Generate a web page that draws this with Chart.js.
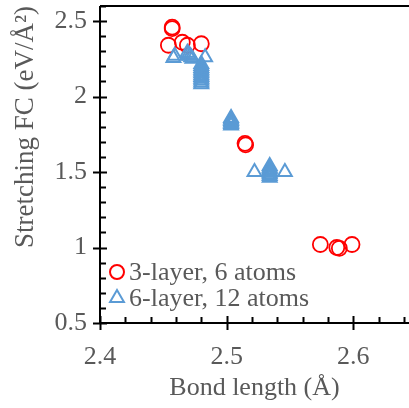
<!DOCTYPE html>
<html>
<head>
<meta charset="utf-8">
<script src="https://cdn.jsdelivr.net/npm/chart.js@4.4.0/dist/chart.umd.min.js"></script>
<style>
  body { margin: 0; background: #fff; }
</style>
</head>
<body>
<canvas id="fcChart" width="409" height="408"></canvas>
<script>
const seriesNames = ["3-layer, 6 atoms", "6-layer, 12 atoms"];

// 3-layer, 6 atoms
const bond3 = [2.457, 2.457, 2.454, 2.465, 2.469, 2.480, 2.5145, 2.515, 2.574, 2.587, 2.589, 2.599];
const fc3 = [2.46, 2.45, 2.34, 2.36, 2.34, 2.35, 1.69, 1.68, 1.02, 1.00, 0.995, 1.02];

// 6-layer, 12 atoms (many near-identical configurations stack up)
const bond6 = [2.458, 2.459, 2.483,
  2.469, 2.470, 2.471, 2.472, 2.473,
  2.480, 2.480, 2.480, 2.480, 2.480, 2.480, 2.480, 2.480, 2.480, 2.480, 2.480, 2.480,
  2.5035, 2.5035, 2.5035, 2.5035, 2.5035, 2.5035,
  2.522, 2.534, 2.534, 2.534, 2.534, 2.534, 2.534, 2.534, 2.534, 2.546];
const fc6 = [2.255, 2.27, 2.26,
  2.29, 2.28, 2.27, 2.26, 2.25,
  2.215, 2.203, 2.19, 2.178, 2.166, 2.154, 2.142, 2.13, 2.118, 2.106, 2.094, 2.082,
  1.858, 1.848, 1.838, 1.828, 1.818, 1.808,
  1.50, 1.54, 1.529, 1.518, 1.507, 1.496, 1.485, 1.474, 1.463, 1.50];

const xTicks = [2.4, 2.5, 2.6];
const yTicks = [0.5, 1, 1.5, 2, 2.5];

const red = "#FF0000";
const blue = "#5B9BD5";
const textGrey = "#595959";
const font = "'Liberation Serif', 'Times New Roman', serif";

function toPoints(xs, ys) {
  return xs.map((x, i) => ({ x: x, y: ys[i] }));
}

// frame, cross/inside ticks and the in-plot legend
const frame = {
  id: "frame",
  afterDatasetsDraw(chart) {
    const { ctx, chartArea: a, scales } = chart;
    const x = scales.x, y = scales.y;
    ctx.save();
    ctx.strokeStyle = "#000";
    ctx.lineWidth = 2;
    ctx.beginPath();
    ctx.moveTo(a.left, a.top);
    ctx.lineTo(a.right, a.top);
    ctx.moveTo(a.left, a.top);
    ctx.lineTo(a.left, a.bottom);
    ctx.lineTo(a.right, a.bottom);

    // y axis: major cross, minor inside
    for (let i = 5; i <= 26; i++) {
      const py = Math.round(y.getPixelForValue(i / 10)) + 0.5;
      if (i % 5 === 0) {
        ctx.moveTo(a.left - 7, py);
        ctx.lineTo(a.left + 7, py);
      } else {
        ctx.moveTo(a.left, py);
        ctx.lineTo(a.left + 6, py);
      }
    }
    // x axis: major cross, minor inside
    for (let i = 0; i <= 12; i++) {
      const v = 2.4 + i * 0.02;
      const px = Math.round(x.getPixelForValue(v)) + 0.5;
      if (px > a.right) break;
      if (i % 5 === 0) {
        ctx.moveTo(px, a.bottom - 7);
        ctx.lineTo(px, a.bottom + 7);
      } else {
        ctx.moveTo(px, a.bottom - 6);
        ctx.lineTo(px, a.bottom + 1);
      }
    }
    ctx.stroke();

    // legend
    const rows = [
      { label: seriesNames[0], color: red, style: "circle", r: 7, y: 272 },
      { label: seriesNames[1], color: blue, style: "triangle", r: 8, y: 298 },
    ];
    ctx.font = "26px " + font;
    ctx.textBaseline = "middle";
    ctx.textAlign = "left";
    rows.forEach(function (row) {
      ctx.strokeStyle = row.color;
      ctx.fillStyle = "rgba(0,0,0,0)";
      ctx.lineWidth = 2;
      Chart.helpers.drawPoint(ctx, { pointStyle: row.style, rotation: 0, radius: row.r, borderWidth: 2 }, a.left + 17, row.y);
      ctx.fillStyle = textGrey;
      ctx.fillText(row.label, a.left + 29, row.y + 1);
    });
    ctx.restore();
  },
};

new Chart(document.getElementById("fcChart"), {
  type: "scatter",
  data: {
    datasets: [
      {
        label: seriesNames[0],
        data: toPoints(bond3, fc3),
        pointStyle: "circle",
        pointRadius: 7.5,
        pointBorderWidth: 1.8,
        pointBorderColor: red,
        pointBackgroundColor: "rgba(0,0,0,0)",
        order: 1,
      },
      {
        label: seriesNames[1],
        data: toPoints(bond6, fc6),
        pointStyle: "triangle",
        pointRadius: 8,
        pointBorderWidth: 2,
        pointBorderColor: blue,
        pointBackgroundColor: "rgba(0,0,0,0)",
        order: 0,
      },
    ],
  },
  options: {
    responsive: false,
    animation: false,
    devicePixelRatio: 1,
    layout: { autoPadding: false, padding: { top: 6, left: 0, right: 0, bottom: 0 } },
    plugins: {
      legend: { display: false },
      tooltip: { enabled: false },
    },
    scales: {
      x: {
        type: "linear",
        min: 2.4,
        max: 2.644,
        afterBuildTicks: function (scale) {
          scale.ticks = xTicks.map((v) => ({ value: v }));
        },
        afterFit: function (scale) {
          scale.height = 85;
          scale.paddingLeft = 0;
          scale.paddingRight = 0;
        },
        grid: { display: false, drawTicks: false },
        border: { display: false },
        ticks: {
          padding: 19,
          color: textGrey,
          font: { family: font, size: 26 },
          callback: (v) => String(v),
        },
        title: {
          display: true,
          text: "Bond length (Å)",
          color: textGrey,
          font: { family: font, size: 26 },
          padding: { top: 0, bottom: 4 },
        },
      },
      y: {
        type: "linear",
        min: 0.5,
        max: 2.6,
        afterBuildTicks: function (scale) {
          scale.ticks = yTicks.map((v) => ({ value: v }));
        },
        afterFit: function (scale) {
          scale.width = 100;
          scale.paddingTop = 0;
          scale.paddingBottom = 0;
        },
        grid: { display: false, drawTicks: false },
        border: { display: false },
        ticks: {
          padding: 13,
          color: textGrey,
          font: { family: font, size: 26 },
          callback: (v) => String(v),
        },
        title: {
          display: true,
          text: "Stretching FC (eV/Å²)",
          align: "end",
          color: textGrey,
          font: { family: font, size: 27 },
          padding: { top: 10, bottom: 0 },
        },
      },
    },
  },
  plugins: [frame],
});
</script>
</body>
</html>
